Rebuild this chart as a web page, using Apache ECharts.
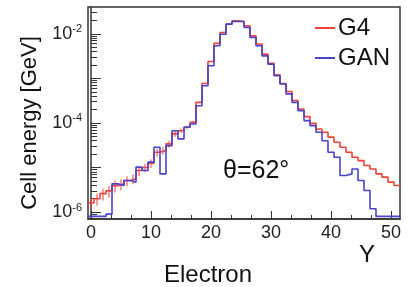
<!DOCTYPE html>
<html>
<head>
<meta charset="utf-8">
<script src="https://cdn.jsdelivr.net/npm/echarts@6/dist/echarts.min.js"></script>
<style>
  html, body { margin: 0; padding: 0; background: #fff; }
  #main { width: 416px; height: 287px; }
</style>
</head>
<body>
<div id="main"></div>
<script>
// cell index along Y (bin centres)
const bins = [0, 1, 2, 3, 4, 5, 6, 7, 8, 9, 10, 11, 12, 13, 14, 15, 16, 17, 18, 19, 20, 21, 22, 23, 24, 25,
  26, 27, 28, 29, 30, 31, 32, 33, 34, 35, 36, 37, 38, 39, 40, 41, 42, 43, 44, 45, 46, 47, 48, 49, 50, 51]

// mean cell energy [GeV]
const g4 = [1.6e-6, 2.0e-6, 2.6e-6, 3.0e-6, 3.9e-6, 4.3e-6, 5.1e-6, 5.6e-6, 8.6e-6, 1.0e-5,
  1.25e-5, 2.2e-5, 2.4e-5, 3.4e-5, 5.7e-5, 6.7e-5, 8.0e-5, 1.04e-4, 2.9e-4, 7.7e-4,
  2.4e-3, 6.1e-3, 1.07e-2, 1.65e-2, 1.95e-2, 1.89e-2, 1.51e-2, 9.0e-3, 5.9e-3, 3.5e-3,
  2.17e-3, 1.21e-3, 7.7e-4, 5.1e-4, 3.2e-4, 2.06e-4, 1.39e-4, 9.8e-5, 7.3e-5, 6.2e-5,
  4.8e-5, 3.7e-5, 2.85e-5, 2.2e-5, 1.7e-5, 1.43e-5, 1.11e-5, 9.3e-6, 7.2e-6, 6.1e-6,
  4.7e-6, 3.95e-6]
// relative error on G4 (only visible on the low side)
const g4Err = [0.3, 0.3, 0.3, 0.3, 0.3, 0.28, 0.25, 0.25, 0.25, 0.22,
  0.22, 0.2, 0.2, 0.18, 0.15, 0.12, 0.1, 0.08, 0, 0,
  0, 0, 0, 0, 0, 0, 0, 0, 0, 0,
  0, 0, 0, 0, 0, 0, 0, 0, 0, 0,
  0, 0, 0, 0, 0, 0, 0, 0, 0, 0,
  0, 0]
const gan = [8.0e-7, 8.0e-7, 8.0e-7, 9.0e-7, 4.3e-6, 3.95e-6, 5.1e-6, 4.7e-6, 1.02e-5, 8.6e-6,
  1.32e-5, 2.85e-5, 7.2e-6, 3.1e-5, 6.7e-5, 4.4e-5, 8.0e-5, 9.5e-5, 2.44e-4, 6.85e-4,
  1.92e-3, 5.4e-3, 9.8e-3, 1.65e-2, 1.89e-2, 1.89e-2, 1.39e-2, 8.3e-3, 5.4e-3, 3.2e-3,
  2.09e-3, 1.15e-3, 7.5e-4, 4.5e-4, 2.9e-4, 1.89e-4, 1.13e-4, 8.7e-5, 6.2e-5, 4.0e-5,
  2.2e-5, 1.7e-5, 6.6e-6, 7.2e-6, 9.3e-6, 5.1e-6, 3.05e-6, 1.19e-6, 8.0e-7, 8.0e-7,
  8.0e-7, 8.0e-7]

// axis ticks
const xTicks = [0, 10, 20, 30, 40, 50]
const xMinorTicks = [3.33, 6.67, 13.33, 16.67, 23.33, 26.67, 33.33, 36.67, 43.33, 46.67]
const yTicks = [1e-6, 1e-5, 1e-4, 1e-3, 1e-2]
const yLabels = [1e-6, 1e-4, 1e-2]
const yMinorTicks = [8e-7, 9e-7,
  2e-6, 3e-6, 4e-6, 5e-6, 6e-6, 7e-6, 8e-6, 9e-6,
  2e-5, 3e-5, 4e-5, 5e-5, 6e-5, 7e-5, 8e-5, 9e-5,
  2e-4, 3e-4, 4e-4, 5e-4, 6e-4, 7e-4, 8e-4, 9e-4,
  2e-3, 3e-3, 4e-3, 5e-3, 6e-3, 7e-3, 8e-3, 9e-3,
  2e-2, 3e-2]

const xMin = -0.5, xMax = 51.5
const yMin = 7e-7, yMax = 0.04
const axisColor = '#333'
const red = '#ee4336', blue = '#4a43cc'
const font = 'Liberation Sans, Arial, sans-serif'

// histogram -> step line: one point per left bin edge, plus the last right edge
function toSteps(vals) {
  const pts = bins.map((b, i) => [b - 0.5, vals[i]])
  pts.push([bins[bins.length - 1] + 0.5, vals[vals.length - 1]])
  return pts
}

const errData = bins.map((b, i) => [b, g4[i] * (1 - g4Err[i]), g4[i] * (1 + g4Err[i])])
                    .filter((d, i) => g4Err[i] > 0)

const myChart = echarts.init(document.getElementById('main'))

const option = {
  animation: false,
  textStyle: { fontFamily: font },
  grid: { left: 88, right: 16, top: 7, bottom: 68, show: true, borderColor: axisColor, borderWidth: 1.5 },
  title: [
    { text: 'θ=62°', left: 218, top: 154, textStyle: { fontSize: 25, fontWeight: 'normal', color: '#111', fontFamily: font } },
    { text: 'Y', left: 354, top: 238, textStyle: { fontSize: 24, fontWeight: 'normal', color: '#111', fontFamily: font } },
    { text: 'Electron', left: 'center', top: 258, textStyle: { fontSize: 24, fontWeight: 'normal', color: '#111', fontFamily: font } }
  ],
  legend: {
    orient: 'vertical', left: 310, top: 11, itemGap: 6,
    itemWidth: 20, itemHeight: 2, icon: 'rect',
    textStyle: { fontSize: 24, color: '#111', fontFamily: font, padding: [0, 0, 0, -2] },
    data: ['G4', 'GAN']
  },
  xAxis: [
    {
      type: 'value', min: xMin, max: xMax, position: 'bottom',
      splitLine: { show: false },
      axisLine: { lineStyle: { color: axisColor, width: 1.5 } },
      axisTick: { inside: true, length: 8, customValues: xTicks, lineStyle: { color: axisColor } },
      axisLabel: { customValues: xTicks, fontSize: 18, color: '#222', margin: 5 }
    },
    {
      type: 'value', min: xMin, max: xMax, position: 'bottom',
      splitLine: { show: false },
      axisLine: { show: false },
      axisTick: { inside: true, length: 4, customValues: xMinorTicks, lineStyle: { color: axisColor } },
      axisLabel: { show: false }
    }
  ],
  yAxis: [
    {
      type: 'log', logBase: 10, min: yMin, max: yMax, position: 'left',
      splitLine: { show: false },
      axisLine: { lineStyle: { color: axisColor, width: 1.5 } },
      axisTick: { inside: true, length: 10, customValues: yTicks, lineStyle: { color: axisColor } },
      axisLabel: {
        customValues: yLabels, fontSize: 18, color: '#222', margin: 6,
        formatter: v => '10{s|' + Math.round(Math.log10(v)) + '}',
        rich: { s: { fontSize: 11, color: '#222', padding: [0, 0, 9, 0] } }
      },
      name: 'Cell energy [GeV]', nameLocation: 'middle', nameGap: 47,
      nameTextStyle: { fontSize: 22, color: '#111', padding: [0, 20, 0, 0] }
    },
    {
      type: 'log', logBase: 10, min: yMin, max: yMax, position: 'left',
      splitLine: { show: false },
      axisLine: { show: false },
      axisTick: { inside: true, length: 6, customValues: yMinorTicks, lineStyle: { color: axisColor } },
      axisLabel: { show: false }
    }
  ],
  series: [
    {
      name: 'G4', type: 'line', step: 'end', showSymbol: false, clip: true,
      color: red, lineStyle: { width: 1.6 },
      data: toSteps(g4)
    },
    {
      // G4 error bars
      type: 'custom', clip: true, silent: true,
      renderItem: (params, api) => {
        const lo = api.coord([api.value(0), api.value(1)])
        const hi = api.coord([api.value(0), api.value(2)])
        return {
          type: 'line',
          shape: { x1: lo[0], y1: lo[1], x2: hi[0], y2: hi[1] },
          style: { stroke: red, lineWidth: 1 }
        }
      },
      encode: { x: 0, y: [1, 2] },
      data: errData
    },
    {
      name: 'GAN', type: 'line', step: 'end', showSymbol: false, clip: true,
      color: blue, lineStyle: { width: 1.6 },
      data: toSteps(gan)
    }
  ]
}

myChart.setOption(option)
</script>
</body>
</html>
